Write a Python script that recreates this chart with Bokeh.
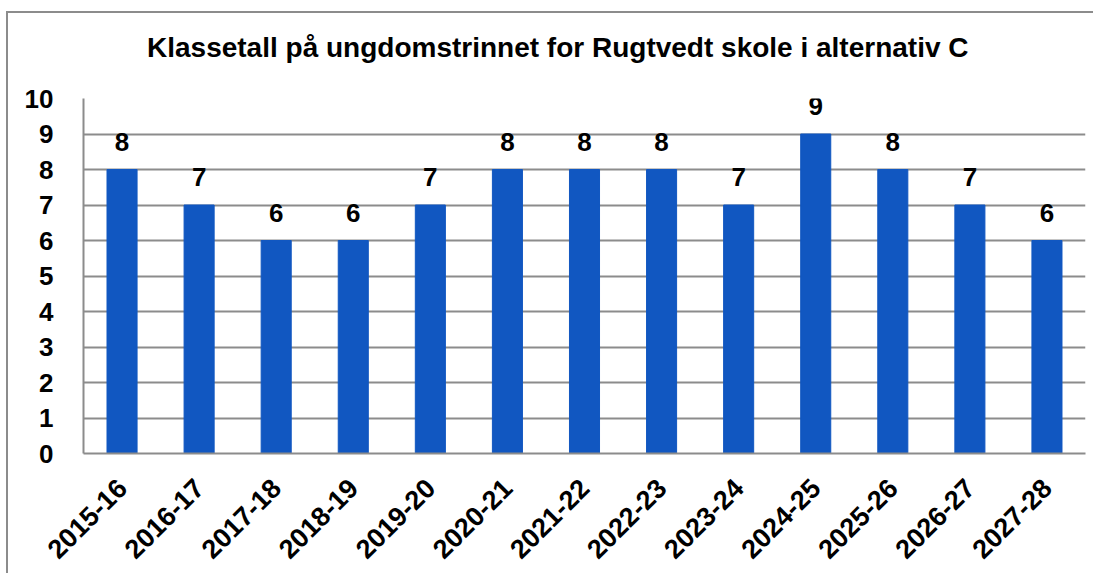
from math import pi
from bokeh.plotting import figure
from bokeh.models import ColumnDataSource, LabelSet, FixedTicker, Div
from bokeh.layouts import column
from bokeh.core.properties import value
from bokeh.embed import file_html
from bokeh.resources import INLINE

title_text = "Klassetall på ungdomstrinnet for Rugtvedt skole i alternativ C"
years = ["2015-16", "2016-17", "2017-18", "2018-19", "2019-20", "2020-21", "2021-22",
         "2022-23", "2023-24", "2024-25", "2025-26", "2026-27", "2027-28"]
classes = [8, 7, 6, 6, 7, 8, 8, 8, 7, 9, 8, 7, 6]
y_ticks = [0, 1, 2, 3, 4, 5, 6, 7, 8, 9, 10]

FONT = "Liberation Sans"
GRID = "#8c8c8c"
BAR = "#1157c1"

src = ColumnDataSource(dict(x=years, top=classes, lab=[str(v) for v in classes]))

title_div = Div(
    text=('<div style="padding-left:139px;padding-top:19px;font-family:\'Liberation Sans\';'
          'font-size:28px;font-weight:bold;line-height:32px;white-space:nowrap;color:black">'
          + title_text + '</div>'),
    width=1085, height=66, margin=(0, 0, 0, 0))

p = figure(x_range=years, y_range=(0, 10), width=1085, height=494,
           output_backend="svg", toolbar_location=None,
           min_border_left=75, min_border_right=8, min_border_top=19, min_border_bottom=120)
p.title = None
p.margin = (0, 0, 0, 0)

p.vbar(x="x", top="top", width=0.39, source=src, fill_color=BAR, line_color=BAR)

labels = LabelSet(x="x", y="top", text="lab", source=src, text_align="center",
                  text_baseline="alphabetic", y_offset=19,
                  text_font=value(FONT), text_font_style="bold", text_font_size="26px",
                  text_color="black")
p.add_layout(labels)

p.outline_line_color = None
p.xgrid.grid_line_color = None
p.ygrid.grid_line_color = GRID
p.ygrid.grid_line_width = 2
p.ygrid.ticker = FixedTicker(ticks=y_ticks)

p.yaxis.ticker = FixedTicker(ticks=y_ticks)
p.yaxis.axis_line_color = GRID
p.yaxis.axis_line_width = 2
p.yaxis.major_tick_line_color = None
p.yaxis.minor_tick_line_color = None
p.yaxis.major_label_standoff = 24
p.yaxis.major_label_text_font = FONT
p.yaxis.major_label_text_font_style = "bold"
p.yaxis.major_label_text_font_size = "26px"
p.yaxis.major_label_text_color = "black"

p.xaxis.axis_line_color = GRID
p.xaxis.axis_line_width = 2
p.xaxis.major_tick_line_color = None
p.xaxis.minor_tick_line_color = None
p.xaxis.major_label_orientation = pi / 4
p.xaxis.major_label_standoff = 24
p.xaxis.major_label_text_font = FONT
p.xaxis.major_label_text_font_style = "bold"
p.xaxis.major_label_text_font_size = "27px"
p.xaxis.major_label_text_color = "black"

layout = column(title_div, p, spacing=0)
layout.styles = {"border-top": "2px solid #8c8c8c", "border-left": "2px solid #8c8c8c",
                 "margin-top": "11px", "margin-left": "6px"}

open("out.html", "w").write(file_html(layout, INLINE))
